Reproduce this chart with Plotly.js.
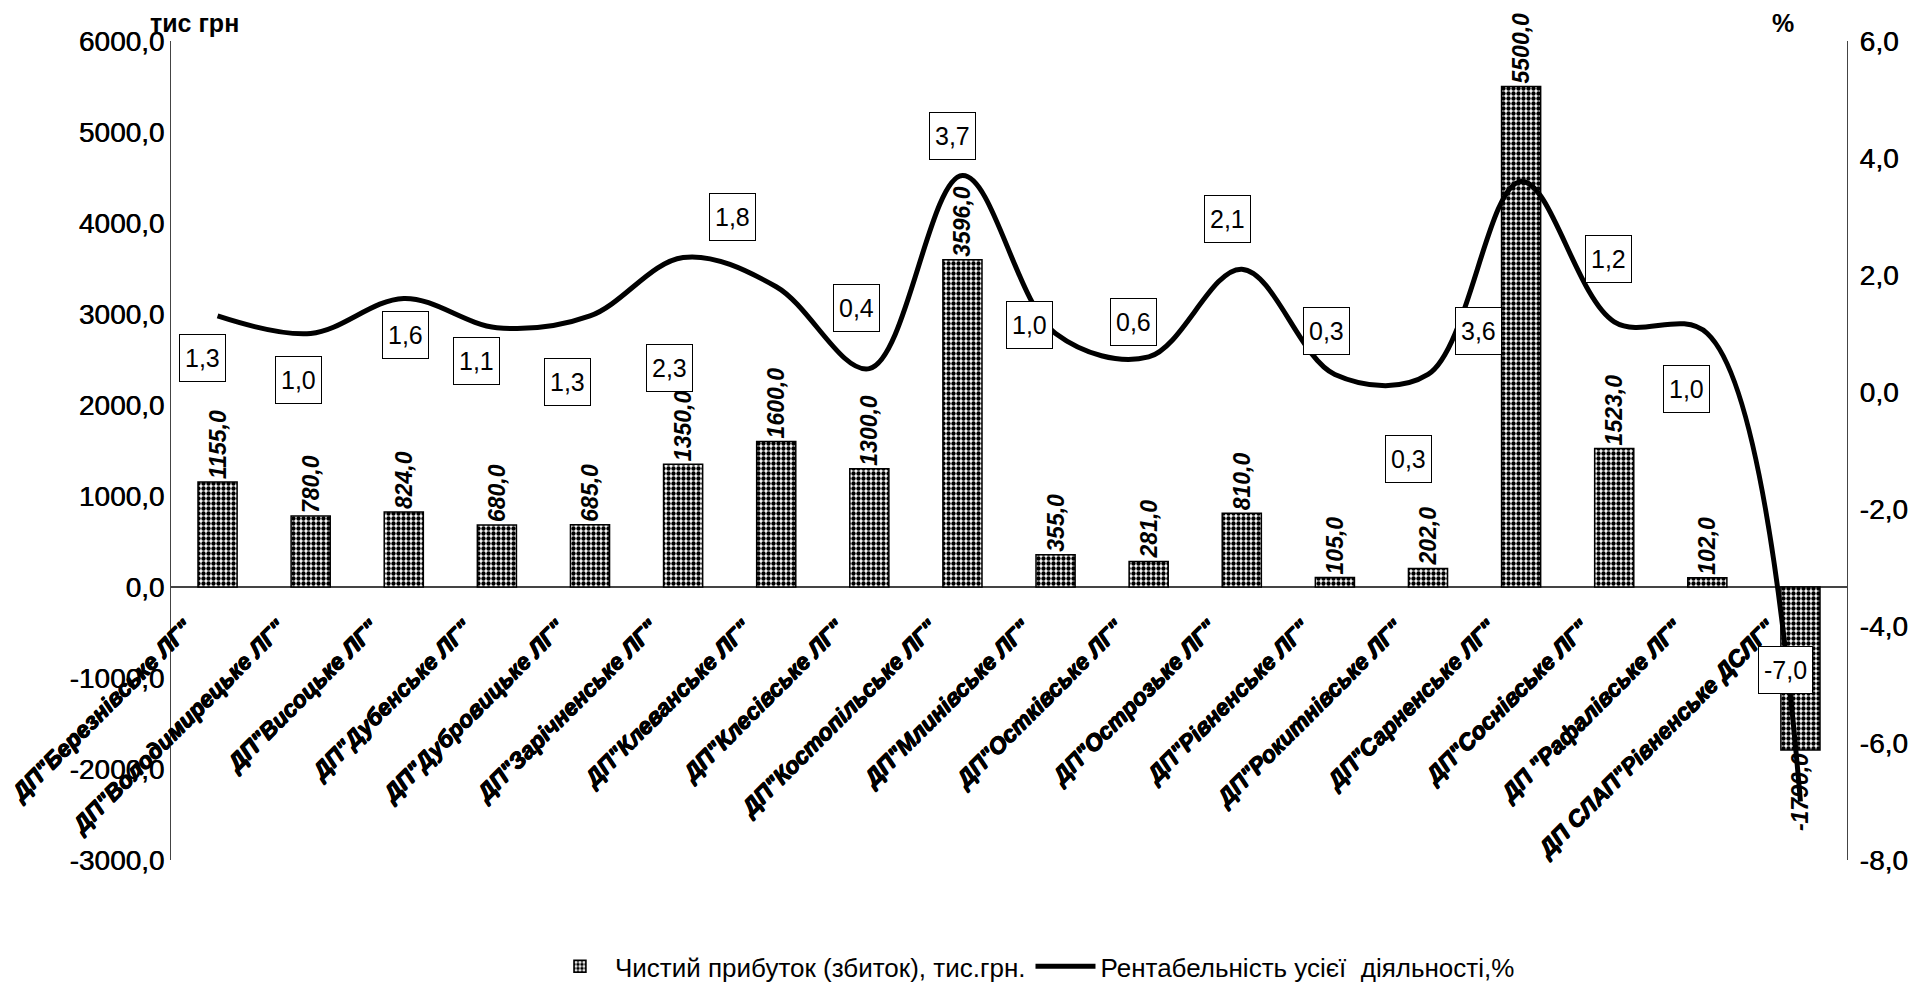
<!DOCTYPE html>
<html>
<head>
<meta charset="utf-8">
<script src="https://cdn.plot.ly/plotly-3.0.1.min.js"></script>
<style>
html,body{margin:0;padding:0;background:#fff;}
#chart{width:1930px;height:1002px;}
</style>
</head>
<body>
<div id="chart"></div>
<script>
// ---- data ----
const categories = [
  'ДП"Березнівське ЛГ"', 'ДП"Володимирецьке ЛГ"', 'ДП"Висоцьке ЛГ"', 'ДП"Дубенське ЛГ"',
  'ДП"Дубровицьке ЛГ"', 'ДП"Зарічненське ЛГ"', 'ДП"Клеванське ЛГ"', 'ДП"Клесівське ЛГ"',
  'ДП"Костопільське ЛГ"', 'ДП"Млинівське ЛГ"', 'ДП"Остківське ЛГ"', 'ДП"Острозьке ЛГ"',
  'ДП"Рівненське ЛГ"', 'ДП"Рокитнівське ЛГ"', 'ДП"Сарненське ЛГ"', 'ДП"Соснівське ЛГ"',
  'ДП "Рафалівське ЛГ"', 'ДП СЛАП"Рівненське ДСЛГ"'
];
const netProfit = [1155, 780, 824, 680, 685, 1350, 1600, 1300, 3596, 355, 281, 810, 105, 202, 5500, 1523, 102, -1790];
const profitability = [1.3, 1.0, 1.6, 1.1, 1.3, 2.3, 1.8, 0.4, 3.7, 1.0, 0.6, 2.1, 0.3, 0.3, 3.6, 1.2, 1.0, -7.0];
const leftTicks = [-3000, -2000, -1000, 0, 1000, 2000, 3000, 4000, 5000, 6000];
const rightTicks = [-8, -6, -4, -2, 0, 2, 4, 6];
const seriesNames = ['Чистий прибуток (збиток), тис.грн.', 'Рентабельність усієї  діяльності,%'];
const leftAxisTitle = 'тис грн';
const rightAxisTitle = '%';

// label placement offsets (px) for the boxed percentage labels
const labelDx = [-15, -12, 2, -20, -23, -14, -44, -13, -10, -26, -15, -14, -8, -20, -43, -6, -21, -15];
const labelDy = [-42, -46, -37, -33, -66, -111, 70, 61, 40, 9, 35, 50, 43, -85, -150, 63, -55, 132];

const fmt1 = v => v.toFixed(1).replace('.', ',');

const FONT = 'Liberation Sans, Arial, sans-serif';
const THICK = '0.6px 0 0 #000, -0.6px 0 0 #000, 0 0.6px 0 #000, 0 -0.6px 0 #000';
const SLIGHT = '0.5px 0 0 #000';

const barTrace = {
  type: 'bar',
  x: categories,
  y: netProfit,
  name: seriesNames[0],
  width: 0.42,
  marker: {
    color: 'white',
    line: {color: 'black', width: 1.5},
    pattern: {shape: '.', size: 5, solidity: 0.6, fgcolor: 'black', bgcolor: 'white', fillmode: 'replace'}
  },
  text: netProfit.map(fmt1),
  texttemplate: '%{text}',
  textposition: 'outside',
  textangle: -90,
  constraintext: 'none',
  cliponaxis: false,
  textfont: {family: FONT, size: 23, color: 'black', weight: 'bold', style: 'italic'},
  hoverinfo: 'x+y'
};

const lineTrace = {
  type: 'scatter',
  mode: 'lines',
  x: categories,
  y: profitability,
  yaxis: 'y2',
  name: seriesNames[1],
  line: {color: 'black', width: 5, shape: 'spline', smoothing: 1},
  cliponaxis: false
};

const annotations = profitability.map((v, i) => ({
  x: categories[i], y: v, xref: 'x', yref: 'y2',
  text: fmt1(v), showarrow: false,
  xshift: labelDx[i], yshift: labelDy[i],
  font: {family: FONT, size: 25, color: 'black'},
  bgcolor: 'white', bordercolor: 'black', borderwidth: 1, borderpad: 5,
  height: 36
}));

annotations.push({
  xref: 'paper', yref: 'paper', x: -0.014, y: 1.003, xanchor: 'left', yanchor: 'bottom',
  text: '<b>' + leftAxisTitle + '</b>', showarrow: false,
  font: {family: FONT, size: 25, color: 'black'}
});
annotations.push({
  xref: 'paper', yref: 'paper', x: 0.962, y: 1.003, xanchor: 'center', yanchor: 'bottom',
  text: '<b>' + rightAxisTitle + '</b>', showarrow: false,
  font: {family: FONT, size: 25, color: 'black'}
});

const layout = {
  width: 1930, height: 1002,
  margin: {l: 171, r: 83, t: 41, b: 121},
  paper_bgcolor: 'white', plot_bgcolor: 'white',
  separators: ', ',
  showlegend: true,
  legend: {
    orientation: 'h', x: 0.514, xanchor: 'center', y: -0.13, yanchor: 'middle',
    font: {family: FONT, size: 26, color: 'black'},
    itemwidth: 60, traceorder: 'normal'
  },
  bargap: 0.58,
  xaxis: {
    type: 'category',
    anchor: 'free', position: 1/3,
    showline: false, showgrid: false, zeroline: false,
    ticks: '', tickangle: -45,
    ticklabelstandoff: 22, ticklabelshift: -32,
    tickfont: {family: FONT, size: 23, color: 'black', weight: 'bold', style: 'italic', shadow: THICK},
    automargin: false
  },
  yaxis: {
    range: [-3000, 6000], tickvals: leftTicks, ticktext: leftTicks.map(fmt1),
    showline: true, linecolor: '#444', linewidth: 1,
    showgrid: false, zeroline: true, zerolinecolor: '#444', zerolinewidth: 1.5,
    ticks: '', ticklabelstandoff: 0,
    tickfont: {family: FONT, size: 28, color: 'black', shadow: SLIGHT},
    automargin: false
  },
  yaxis2: {
    overlaying: 'y', side: 'right',
    range: [-8, 6], tickvals: rightTicks, ticktext: rightTicks.map(fmt1),
    showline: true, linecolor: '#444', linewidth: 1,
    showgrid: false, zeroline: false,
    ticks: '', ticklabelstandoff: 6,
    tickfont: {family: FONT, size: 28, color: 'black', shadow: SLIGHT},
    automargin: false
  },
  annotations: annotations
};

Plotly.newPlot('chart', [barTrace, lineTrace], layout, {displayModeBar: false, staticPlot: true});
</script>
</body>
</html>
